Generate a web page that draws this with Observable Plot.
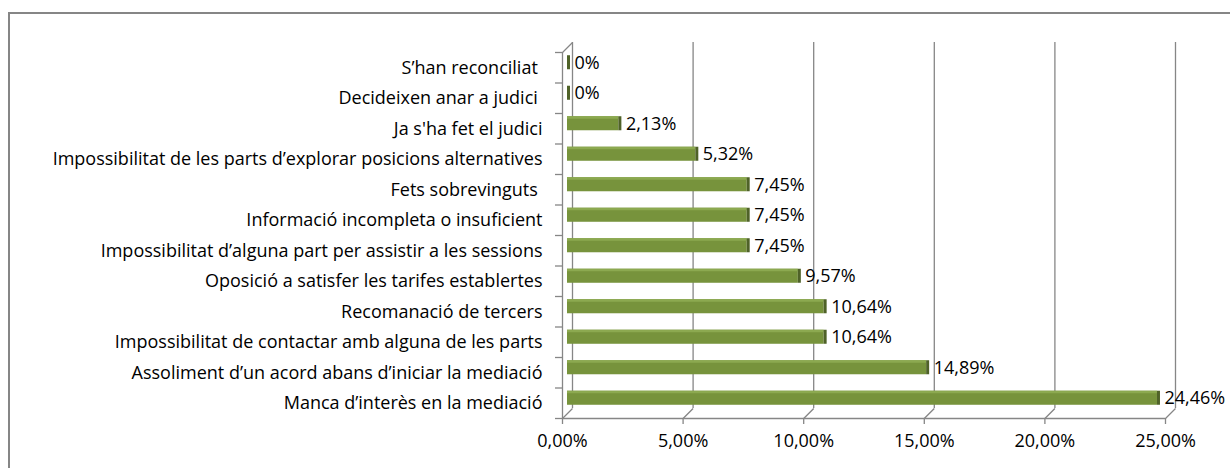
<!DOCTYPE html>
<html><head><meta charset="utf-8">
<script src="https://cdn.jsdelivr.net/npm/d3@7"></script>
<script src="https://cdn.jsdelivr.net/npm/@observablehq/plot@0.6"></script>
<style>
html,body{margin:0;padding:0;background:#fff;overflow:hidden;width:1230px;height:468px}
#frame{position:absolute;left:8px;top:12px;width:1400px;height:600px;border-left:2px solid #868686;border-top:2px solid #868686}
#chart{position:absolute;left:0;top:0}
#chart text{white-space:pre}
</style></head><body><div id="frame"></div><div id="chart"></div>
<script>
const categories = [
  "S’han reconciliat ",
  "Decideixen anar a judici ",
  "Ja s'ha fet el judici",
  "Impossibilitat de les parts d’explorar posicions alternatives",
  "Fets sobrevinguts ",
  "Informació incompleta o insuficient",
  "Impossibilitat d’alguna part per assistir a les sessions",
  "Oposició a satisfer les tarifes establertes",
  "Recomanació de tercers",
  "Impossibilitat de contactar amb alguna de les parts",
  "Assoliment d’un acord abans d’iniciar la mediació",
  "Manca d’interès en la mediació"
];
const values = [0, 0, 2.13, 5.32, 7.45, 7.45, 7.45, 9.57, 10.64, 10.64, 14.89, 24.46];
const xTicks = [0, 5, 10, 15, 20, 25];

const rows = categories.map((c, i) => ({category: c, value: values[i], i}));
const fmtVal = v => v === 0 ? "0%" : v.toFixed(2).replace(".", ",") + "%";
const fmtTick = v => v.toFixed(2).replace(".", ",") + "%";

const W = 1230, H = 468;
const X0 = 572, X1 = 1175, Y0 = 42, Y1 = 408;
const DEPTH = 10;
const xPx = (X1 - X0) / 25, yPx = (Y1 - Y0) / 12;
const dX = DEPTH / xPx, dY = DEPTH / yPx;
const n = categories.length;
const grid = "#868686";

const plot = Plot.plot({
  width: W, height: H,
  marginLeft: X0, marginRight: W - X1, marginTop: Y0, marginBottom: H - Y1,
  x: {domain: [0, 25], axis: null},
  y: {domain: [0, n], range: [Y0, Y1], axis: null},
  style: {fontFamily: "'Open Sans', Lato, sans-serif", fontSize: "18px", color: "#000", background: "transparent", overflow: "visible"},
  marks: [
    Plot.ruleX(xTicks, {x: d => d, y1: () => 0, y2: () => n, stroke: grid, strokeWidth: 1.3}),
    Plot.link(xTicks, {x1: d => d, y1: () => n, x2: d => d - dX, y2: () => n + dY, stroke: grid, strokeWidth: 1.3}),
    Plot.link([0], {x1: d => d, y1: () => 0, x2: d => d - dX, y2: () => dY, stroke: grid, strokeWidth: 1.3}),
    Plot.ruleX([0], {x: d => d - dX, y1: () => dY, y2: () => n + dY, stroke: grid, strokeWidth: 1.3}),
    Plot.ruleY([n + dY], {y: d => d, x1: () => -dX, x2: () => 25 - dX, stroke: grid, strokeWidth: 1.3}),
    Plot.ruleX(xTicks, {x: d => d - dX, y1: () => n + dY, y2: () => n + dY + 6 / yPx, stroke: grid, strokeWidth: 1.3}),
    Plot.ruleY(d3.range(n + 1), {y: k => k + dY, x1: () => -dX - 7 / xPx, x2: () => -dX, stroke: grid, strokeWidth: 1.3}),
    Plot.rectX(rows, {x1: () => 0, x2: "value", y1: d => d.i + 0.27, y2: d => d.i + 0.73, dx: -5, dy: 5, fill: "#77933C"}),
    Plot.rectX(rows, {x1: () => 0, x2: "value", y1: d => d.i + 0.27, y2: d => d.i + 0.27 + 2.5 / yPx, dx: -5, dy: 5, fill: "#8CA950"}),
    Plot.rectX(rows, {x1: "value", x2: "value", y1: d => d.i + 0.27, y2: d => d.i + 0.73, dx: -5, dy: 5, insetRight: -3, fill: "#4F6228"}),
    Plot.text(rows, {x: "value", y: d => d.i + 0.5, text: d => fmtVal(d.value), textAnchor: "start", dx: 2, dy: 5, fill: "#000"}),
    Plot.text(rows, {x: () => -dX, y: d => d.i + 0.5 + dY, text: "category", textAnchor: "end", dx: -20, fill: "#000"}),
    Plot.text(xTicks, {x: d => d - dX, y: () => n + dY, text: d => fmtTick(d), dy: 23, fill: "#000"})
  ]
});
document.getElementById("chart").appendChild(plot);
</script>
</body></html>
